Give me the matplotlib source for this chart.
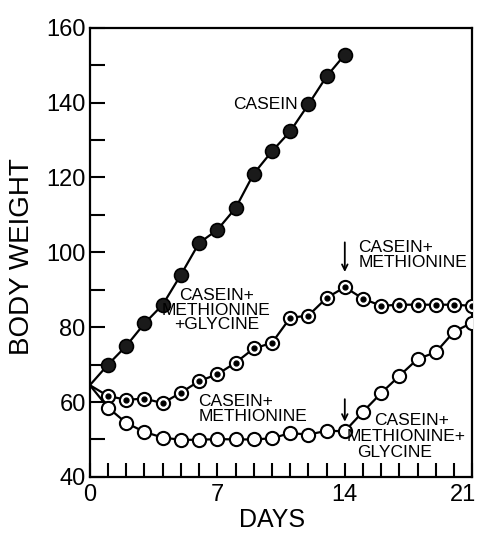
import matplotlib
matplotlib.use('Agg')
import matplotlib.pyplot as plt
from matplotlib.transforms import ScaledTranslation

# body weight readings, one per day
days = list(range(22))
casein_days = list(range(15))
casein = [64.5, 70, 75, 81, 86, 94, 102.5, 106, 111.8, 121, 127, 132.3, 139.5, 147, 152.8]
# casein+methionine+glycine, switched to casein+methionine at day 14
dotted = [64.5, 61.6, 60.6, 60.9, 59.7, 62.5, 65.6, 67.4, 70.5, 74.3, 75.8,
          82.5, 83.1, 87.8, 90.7, 87.6, 85.7, 86, 86, 86, 86, 85.7]
# casein+methionine, switched to casein+methionine+glycine at day 14
open_ = [64.5, 58.5, 54.4, 52, 50.5, 49.9, 49.9, 50.1, 50, 50, 50.3,
         51.7, 51.3, 52.3, 52.2, 57.4, 62.4, 67, 71.5, 73.3, 78.8, 81.2]

x_labels = {0: "0", 7: "7", 14: "14", 21: "21"}
y_major = [40, 60, 80, 100, 120, 140, 160]
y_minor = [50, 70, 90, 110, 130, 150]

plt.rcParams['font.family'] = ['Liberation Sans', 'DejaVu Sans']

fig = plt.figure(figsize=(4.78, 5.34), dpi=100)
ax = fig.add_axes([0.188, 0.107, 0.800, 0.841])

lw = 1.6
ms = 9.5
ax.plot(casein_days, casein, color='black', lw=lw, marker='o', ms=ms + 0.5,
        mfc='#1a1a1a', mec='black', mew=1.2, markevery=slice(1, None), zorder=3)
ax.plot(days, dotted, color='black', lw=lw, marker='o', ms=ms,
        mfc='white', mec='black', mew=1.5, markevery=slice(1, None), zorder=3)
ax.plot(days[1:], dotted[1:], ls='none', marker='o', ms=3.5,
        mfc='black', mec='black', zorder=4)
ax.plot(days, open_, color='black', lw=lw, marker='o', ms=ms,
        mfc='white', mec='black', mew=1.5, markevery=slice(1, None), zorder=3)

ax.set_xlim(0, 21)
ax.set_ylim(40, 160)
ax.set_xticks(days)
ax.set_xticklabels([x_labels.get(d, "") for d in days], fontsize=17)
ax.set_yticks(y_major)
ax.set_yticklabels([str(v) for v in y_major], fontsize=17)
ax.set_yticks(y_minor, minor=True)
ax.tick_params(axis='x', direction='in', length=10, width=1.5, pad=5)
ax.tick_params(axis='y', which='both', direction='in', length=11, width=1.5, pad=3)
for s in ax.spines.values():
    s.set_linewidth(1.6)

# last day label sits against the right edge, nudge it in a bit
lbl = ax.get_xticklabels()[-1]
lbl.set_transform(lbl.get_transform() + ScaledTranslation(-7 / 72, 0, fig.dpi_scale_trans))

ax.set_ylabel("BODY WEIGHT", fontsize=20, va='center')
ax.yaxis.set_label_coords(-0.178, 0.49)
ax.set_xlabel("DAYS", fontsize=18, va='center')
ax.xaxis.set_label_coords(0.476, -0.096)

fs = 12.5
ax.text(11.4, 139.5, "CASEIN", fontsize=fs, ha='right', va='center')
ax.text(6.95, 84.5, "CASEIN+\nMETHIONINE\n+GLYCINE", fontsize=fs, ha='center',
        va='center', linespacing=0.95)
ax.text(5.95, 58.0, "CASEIN+\nMETHIONINE", fontsize=fs, ha='left',
        va='center', linespacing=1.0)
ax.text(14.75, 99.4, "CASEIN+\nMETHIONINE", fontsize=fs, ha='left',
        va='center', linespacing=1.0)
ax.text(15.6, 55.0, "CASEIN+", fontsize=fs, ha='left', va='center')
ax.text(14.1, 50.8, "METHIONINE+", fontsize=fs, ha='left', va='center')
ax.text(14.7, 46.4, "GLYCINE", fontsize=fs, ha='left', va='center')

arrow = dict(arrowstyle='->', color='black', lw=1.3)
ax.annotate("", xy=(14, 94), xytext=(14, 103.4), arrowprops=arrow)
ax.annotate("", xy=(14, 54.0), xytext=(14, 61.5), arrowprops=arrow)

plt.savefig("out.png", dpi=100)
